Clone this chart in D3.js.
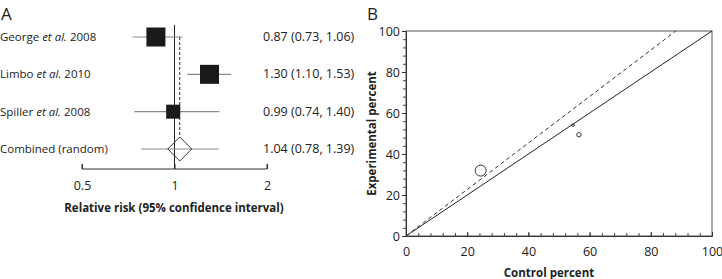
<!DOCTYPE html>
<html>
<head>
<meta charset="utf-8">
<script src="https://cdn.jsdelivr.net/npm/d3@7"></script>
<style>
  body { margin: 0; background: #fff; }
  svg text { font-family: "Open Sans", sans-serif; fill: #222; }
</style>
</head>
<body>
<div id="graphic"></div>
<script>
// Panel A: forest plot data
let studyNames = ["George", "Limbo", "Spiller", "Combined (random)"];
let studyYears = ["2008", "2010", "2008", ""];
let rr = [0.87, 1.30, 0.99, 1.04];
let lower = [0.73, 1.10, 0.74, 0.78];
let upper = [1.06, 1.53, 1.40, 1.39];
let boxSize = [19, 19, 14];   // relative weight shown as square size
let rrTicks = [0.5, 1, 2];

// Panel B: L'Abbe plot data
let controlPct = [24.4, 56.5, 54.6];
let experPct = [31.9, 49.4, 54.1];
let pointSize = [5.5, 2.2, 1.3];
let pooledSlope = 1.134;
let pctTicks = [0, 20, 40, 60, 80, 100];

let svg = d3.select("#graphic")
  .append("svg")
    .attr("width", 722)
    .attr("height", 279);

// ---------- Panel A ----------
let a = svg.append("g");

a.append("text").attr("x", 1).attr("y", 20)
  .style("font-size", "17px").text("A");

let x = d3.scaleLog().domain([0.5, 2]).range([82, 267]);
let y = d3.scalePoint().domain(studyNames).range([37, 149]);

// axis
let axisY = 169;
a.append("g")
  .attr("transform", "translate(0," + axisY + ")")
  .call(d3.axisBottom(x).tickValues(rrTicks).tickFormat(d3.format("")).tickSize(-5))
  .call(g => g.select(".domain").attr("stroke", "#333").attr("d", "M82,-5V0H267V-5"))
  .call(g => g.selectAll(".tick line").attr("stroke", "#333"))
  .call(g => g.selectAll(".tick text").attr("y", 12).style("font-size", "12.5px").style("font-family", "Open Sans").attr("fill", "#333"));

a.append("text")
  .attr("x", 174).attr("y", 212)
  .attr("text-anchor", "middle")
  .style("font-size", "11.5px").style("font-weight", "bold")
  .text("Relative risk (95% confidence interval)");

// reference line at 1
a.append("line")
  .attr("x1", x(1)).attr("x2", x(1))
  .attr("y1", 25).attr("y2", axisY)
  .attr("stroke", "#222").attr("stroke-width", 1);

// pooled estimate dashed line
a.append("line")
  .attr("x1", x(rr[3])).attr("x2", x(rr[3]))
  .attr("y1", y(studyNames[0])).attr("y2", y(studyNames[3]) - 12)
  .attr("stroke", "#333").attr("stroke-dasharray", "3,2");

let rows = d3.range(studyNames.length);

// CI lines
a.selectAll(".ci")
  .data(rows)
  .enter()
  .append("line")
    .attr("x1", i => x(lower[i]))
    .attr("x2", i => x(upper[i]))
    .attr("y1", i => y(studyNames[i]))
    .attr("y2", i => y(studyNames[i]))
    .attr("stroke", "#888").attr("stroke-width", 1.2);

// squares
a.selectAll(".box")
  .data(rows.slice(0, 3))
  .enter()
  .append("rect")
    .attr("x", i => x(rr[i]) - boxSize[i] / 2)
    .attr("y", i => y(studyNames[i]) - boxSize[i] / 2)
    .attr("width", i => boxSize[i])
    .attr("height", i => boxSize[i])
    .attr("fill", "#1a1a1a");

// diamond for pooled
let dx = x(rr[3]), dy = y(studyNames[3]);
a.append("path")
  .attr("d", "M" + (dx - 12) + "," + dy + "L" + dx + "," + (dy - 12) +
             "L" + (dx + 12) + "," + dy + "L" + dx + "," + (dy + 12) + "Z")
  .attr("fill", "none").attr("stroke", "#333").attr("stroke-width", 1);

// study labels
let lab = a.selectAll(".lab")
  .data(rows)
  .enter()
  .append("text")
    .attr("x", 0)
    .attr("y", i => y(studyNames[i]) + 4)
    .style("font-size", "11.5px");
lab.append("tspan").text(i => studyNames[i]);
lab.filter(i => studyYears[i] !== "").append("tspan").style("font-style", "italic").text(" et al.");
lab.filter(i => studyYears[i] !== "").append("tspan").text(i => " " + studyYears[i]);

// estimate text
let fmt = d3.format(".2f");
a.selectAll(".est")
  .data(rows)
  .enter()
  .append("text")
    .attr("x", 263)
    .attr("y", i => y(studyNames[i]) + 4)
    .style("font-size", "12.5px")
    .text(i => fmt(rr[i]) + " (" + fmt(lower[i]) + ", " + fmt(upper[i]) + ")");

// ---------- Panel B ----------
let b = svg.append("g");

b.append("text").attr("x", 367).attr("y", 20)
  .style("font-size", "17px").text("B");

let bx = d3.scaleLinear().domain([0, 100]).range([406, 712]);
let by = d3.scaleLinear().domain([0, 100]).range([236, 31]);

// frame
b.append("rect")
  .attr("x", bx(0)).attr("y", by(100))
  .attr("width", bx(100) - bx(0)).attr("height", by(0) - by(100))
  .attr("fill", "none").attr("stroke", "#555").attr("stroke-width", 1);

// minor ticks
let minor = d3.range(0, 101, 4);
b.append("g")
  .attr("transform", "translate(0," + by(0) + ")")
  .call(d3.axisBottom(bx).tickValues(minor).tickFormat("").tickSize(-3))
  .call(g => g.select(".domain").remove())
  .call(g => g.selectAll(".tick line").attr("stroke", "#444"));
b.append("g")
  .attr("transform", "translate(" + bx(0) + ",0)")
  .call(d3.axisLeft(by).tickValues(minor).tickFormat("").tickSize(3))
  .call(g => g.select(".domain").remove())
  .call(g => g.selectAll(".tick line").attr("stroke", "#444"));

// major axes
b.append("g")
  .attr("transform", "translate(0," + by(0) + ")")
  .call(d3.axisBottom(bx).tickValues(pctTicks).tickSize(-4).tickPadding(10))
  .call(g => g.select(".domain").attr("stroke", "#333"))
  .call(g => g.selectAll(".tick line").attr("stroke", "#333"))
  .call(g => g.selectAll(".tick text").attr("y", 11).style("font-size", "12.5px").style("font-family", "Open Sans").attr("fill", "#333"));
b.append("g")
  .attr("transform", "translate(" + bx(0) + ",0)")
  .call(d3.axisLeft(by).tickValues(pctTicks).tickSize(4).tickPadding(2))
  .call(g => g.select(".domain").attr("stroke", "#333"))
  .call(g => g.selectAll(".tick line").attr("stroke", "#333"))
  .call(g => g.selectAll(".tick text").style("font-size", "12.5px").style("font-family", "Open Sans").attr("fill", "#333"));

b.append("text")
  .attr("x", bx(50) - 10).attr("y", 277)
  .attr("text-anchor", "middle")
  .style("font-size", "11.5px").style("font-weight", "bold")
  .text("Control percent");

b.append("text")
  .attr("transform", "translate(376," + by(50) + ") rotate(-90)")
  .attr("text-anchor", "middle")
  .style("font-size", "11.5px").style("font-weight", "bold")
  .text("Experimental percent");

// line of equality
b.append("line")
  .attr("x1", bx(0)).attr("y1", by(0))
  .attr("x2", bx(100)).attr("y2", by(100))
  .attr("stroke", "#222").attr("stroke-width", 1);

// pooled effect line
b.append("line")
  .attr("x1", bx(0)).attr("y1", by(0))
  .attr("x2", bx(100 / pooledSlope)).attr("y2", by(100))
  .attr("stroke", "#333").attr("stroke-dasharray", "4,3");

// study points
b.selectAll(".pt")
  .data(controlPct)
  .enter()
  .append("circle")
    .attr("cx", (d, i) => bx(d))
    .attr("cy", (d, i) => by(experPct[i]))
    .attr("r", (d, i) => pointSize[i])
    .attr("fill", "none")
    .attr("stroke", "#333").attr("stroke-width", 1);
</script>
</body>
</html>
